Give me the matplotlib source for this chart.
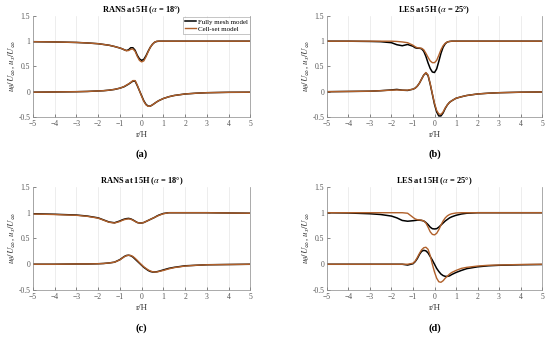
import matplotlib
matplotlib.use('Agg')
import matplotlib.pyplot as plt
import numpy as np

plt.rcParams['font.family'] = ['Liberation Serif', 'DejaVu Serif']
plt.rcParams['mathtext.fontset'] = 'stix'

# radial positions r/H shared by all profiles
r = [-5, -4, -3, -2.5, -2, -1.75, -1.5, -1.25, -1, -0.9, -0.8, -0.7, -0.6,
     -0.5, -0.4, -0.3, -0.2, -0.1, 0, 0.1, 0.2, 0.3, 0.4, 0.5, 0.6, 0.7,
     0.8, 1, 1.25, 1.5, 2, 2.5, 3, 4, 5]

# (a) RANS at 5H
a_up_full = [0.99, 0.985, 0.975, 0.965, 0.95, 0.935, 0.92, 0.895, 0.865, 0.85,
             0.83, 0.815, 0.83, 0.87, 0.87, 0.82, 0.72, 0.65, 0.62, 0.64, 0.71,
             0.8, 0.88, 0.94, 0.98, 0.995, 1.0, 1.0, 1.0, 1.0, 1.0, 1.0, 1.0,
             1.0, 1.0]
a_up_cell = [0.99, 0.985, 0.975, 0.965, 0.95, 0.935, 0.92, 0.895, 0.865, 0.85,
             0.83, 0.81, 0.815, 0.84, 0.845, 0.8, 0.7, 0.62, 0.59, 0.61, 0.69,
             0.79, 0.88, 0.94, 0.98, 1.0, 1.0, 1.0, 1.0, 1.0, 1.0, 1.0, 1.0,
             1.0, 1.0]
a_lo_full = [-0.01, -0.005, 0.0, 0.005, 0.015, 0.02, 0.03, 0.045, 0.07, 0.085,
             0.1, 0.125, 0.15, 0.18, 0.21, 0.21, 0.12, 0.02, -0.08, -0.18,
             -0.25, -0.285, -0.285, -0.26, -0.23, -0.2, -0.175, -0.135, -0.1,
             -0.075, -0.045, -0.03, -0.02, -0.012, -0.01]
a_lo_cell = [-0.01, -0.005, 0.0, 0.005, 0.015, 0.02, 0.03, 0.045, 0.07, 0.085,
             0.105, 0.13, 0.155, 0.185, 0.22, 0.22, 0.13, 0.02, -0.09, -0.19,
             -0.26, -0.29, -0.285, -0.26, -0.23, -0.2, -0.175, -0.135, -0.1,
             -0.075, -0.045, -0.03, -0.02, -0.012, -0.01]

# (b) LES at 5H
b_up_full = [1.0, 1.0, 0.995, 0.99, 0.97, 0.93, 0.91, 0.935, 0.9, 0.87, 0.86,
             0.86, 0.85, 0.8, 0.7, 0.57, 0.46, 0.39, 0.38, 0.45, 0.6, 0.76,
             0.88, 0.95, 0.985, 0.995, 1.0, 1.0, 1.0, 1.0, 1.0, 1.0, 1.0, 1.0,
             1.0]
b_up_cell = [1.0, 1.0, 1.0, 1.0, 1.0, 0.995, 0.985, 0.97, 0.92, 0.89, 0.87,
             0.865, 0.86, 0.83, 0.76, 0.68, 0.61, 0.575, 0.575, 0.62, 0.72,
             0.83, 0.91, 0.96, 0.985, 0.995, 1.0, 1.0, 1.0, 1.0, 1.0, 1.0, 1.0,
             1.0, 1.0]
b_lo_full = [0.0, 0.005, 0.01, 0.02, 0.035, 0.045, 0.03, 0.025, 0.05, 0.07,
             0.11, 0.17, 0.25, 0.33, 0.37, 0.32, 0.15, -0.05, -0.25, -0.4,
             -0.48, -0.48, -0.42, -0.33, -0.26, -0.21, -0.18, -0.13, -0.1,
             -0.075, -0.045, -0.03, -0.02, -0.01, -0.005]
b_lo_cell = [0.0, 0.005, 0.01, 0.02, 0.03, 0.035, 0.03, 0.03, 0.05, 0.07,
             0.11, 0.17, 0.25, 0.33, 0.38, 0.33, 0.16, -0.04, -0.23, -0.37,
             -0.44, -0.45, -0.4, -0.32, -0.26, -0.21, -0.18, -0.13, -0.1,
             -0.075, -0.045, -0.03, -0.02, -0.01, -0.005]

# (c) RANS at 15H
c_up_full = [0.98, 0.97, 0.955, 0.935, 0.9, 0.86, 0.82, 0.805, 0.84, 0.86,
             0.875, 0.885, 0.89, 0.88, 0.86, 0.835, 0.81, 0.8, 0.8, 0.81, 0.83,
             0.85, 0.87, 0.89, 0.91, 0.935, 0.955, 0.985, 1.0, 1.0, 1.0, 1.0,
             1.0, 0.995, 0.99]
c_up_cell = [0.975, 0.965, 0.95, 0.93, 0.895, 0.855, 0.815, 0.8, 0.83, 0.85,
             0.865, 0.875, 0.88, 0.875, 0.855, 0.83, 0.81, 0.8, 0.8, 0.81, 0.83,
             0.85, 0.87, 0.89, 0.91, 0.93, 0.95, 0.98, 1.0, 1.0, 1.0, 1.0,
             1.0, 0.995, 0.99]
c_lo_full = [0.0, 0.0, 0.005, 0.005, 0.01, 0.015, 0.025, 0.04, 0.09, 0.12,
             0.15, 0.17, 0.175, 0.165, 0.14, 0.1, 0.06, 0.02, -0.02, -0.06,
             -0.09, -0.12, -0.14, -0.15, -0.15, -0.145, -0.135, -0.11, -0.08,
             -0.06, -0.03, -0.02, -0.01, -0.005, 0.0]
c_lo_cell = [0.0, 0.0, 0.005, 0.005, 0.01, 0.015, 0.025, 0.04, 0.085, 0.115,
             0.145, 0.165, 0.175, 0.17, 0.15, 0.115, 0.075, 0.03, -0.01, -0.05,
             -0.08, -0.11, -0.13, -0.145, -0.15, -0.15, -0.14, -0.12, -0.09,
             -0.065, -0.035, -0.02, -0.01, -0.005, 0.0]

# (d) LES at 15H
d_up_full = [1.0, 0.995, 0.98, 0.965, 0.935, 0.9, 0.85, 0.835, 0.845, 0.85,
             0.855, 0.855, 0.85, 0.84, 0.81, 0.77, 0.72, 0.69, 0.685, 0.69,
             0.72, 0.76, 0.8, 0.84, 0.87, 0.9, 0.92, 0.95, 0.975, 0.99, 1.0,
             1.0, 1.0, 1.0, 1.0]
d_up_cell = [1.0, 1.0, 1.0, 1.0, 1.0, 1.0, 1.0, 0.99, 0.91, 0.88, 0.865, 0.86,
             0.855, 0.84, 0.8, 0.72, 0.63, 0.58, 0.57, 0.6, 0.67, 0.76, 0.84,
             0.9, 0.94, 0.965, 0.98, 0.995, 1.0, 1.0, 1.0, 1.0, 1.0, 1.0, 1.0]
d_lo_full = [0.0, 0.0, 0.0, 0.0, 0.0, 0.0, 0.0, -0.015, 0.01, 0.05, 0.11,
             0.19, 0.25, 0.27, 0.26, 0.22, 0.15, 0.08, 0.0, -0.08, -0.14,
             -0.19, -0.22, -0.235, -0.235, -0.225, -0.2, -0.16, -0.12, -0.085,
             -0.05, -0.03, -0.02, -0.01, -0.005]
d_lo_cell = [0.0, 0.0, 0.0, 0.0, 0.0, 0.0, 0.0, 0.0, 0.02, 0.06, 0.13, 0.21,
             0.28, 0.32, 0.33, 0.29, 0.17, 0.0, -0.15, -0.27, -0.34, -0.35,
             -0.32, -0.27, -0.23, -0.19, -0.16, -0.12, -0.08, -0.06, -0.035,
             -0.02, -0.015, -0.005, 0.0]

titles = [r'RANS at 5H ($\alpha$ = 18°)', r'LES at 5H ($\alpha$ = 25°)',
          r'RANS at 15H ($\alpha$ = 18°)', r'LES at 15H ($\alpha$ = 25°)']
letters = ['(a)', '(b)', '(c)', '(d)']
series = [(a_up_full, a_up_cell, a_lo_full, a_lo_cell),
          (b_up_full, b_up_cell, b_lo_full, b_lo_cell),
          (c_up_full, c_up_cell, c_lo_full, c_lo_cell),
          (d_up_full, d_up_cell, d_lo_full, d_lo_cell)]

full_color = 'black'
cell_color = '#b0602a'
gray = '#555555'

fig = plt.figure(figsize=(5.5, 3.39), dpi=100)
positions = [[0.06, 0.655, 0.395, 0.298], [0.5945, 0.655, 0.391, 0.298],
             [0.06, 0.1445, 0.395, 0.304], [0.5945, 0.1445, 0.391, 0.304]]

for i in range(4):
    ax = fig.add_axes(positions[i])
    up_f, up_c, lo_f, lo_c = series[i]
    ax.plot(r, up_f, color=full_color, lw=1.1, label='Fully mesh model')
    ax.plot(r, up_c, color=cell_color, lw=1.0, label='Cell-set model')
    ax.plot(r, lo_f, color=full_color, lw=1.1)
    ax.plot(r, lo_c, color=cell_color, lw=1.0)
    ax.set_xlim(-5, 5)
    ax.set_ylim(-0.5, 1.5)
    ax.set_xticks(np.arange(-5, 6, 1))
    ax.set_yticks([-0.5, 0, 0.5, 1, 1.5])
    ax.set_yticklabels(['-0.5', '0', '0.5', '1', '1.5'])
    ax.xaxis.grid(True, color='#e6e6e6', lw=0.5)
    ax.set_axisbelow(True)
    ax.tick_params(labelsize=5.5, colors=gray, direction='in', length=2,
                   width=0.5, pad=2)
    ax.spines['top'].set_visible(False)
    for s in ['left', 'bottom', 'right']:
        ax.spines[s].set_color('#888888')
        ax.spines[s].set_linewidth(0.5)
    ax.set_title(titles[i], fontsize=6, fontweight='bold', pad=3)
    ax.set_xlabel('r/H', fontsize=6.5, color='#333333', labelpad=2)
    ax.set_ylabel(r'$u_\theta/U_\infty$, $u_x/U_\infty$', fontsize=6.5,
                  color='#333333', labelpad=1)
    ax.text(0.5, -0.37, letters[i], transform=ax.transAxes, ha='center',
            va='center', fontsize=7.5, fontweight='bold')
    if i == 0:
        ax.legend(loc='upper right', fontsize=5, frameon=True,
                  fancybox=False, edgecolor='#999999', handlelength=1.5,
                  borderpad=0.3, labelspacing=0.2, handletextpad=0.3,
                  borderaxespad=0.1).get_frame().set_linewidth(0.5)

fig.savefig('out.png', dpi=100)
